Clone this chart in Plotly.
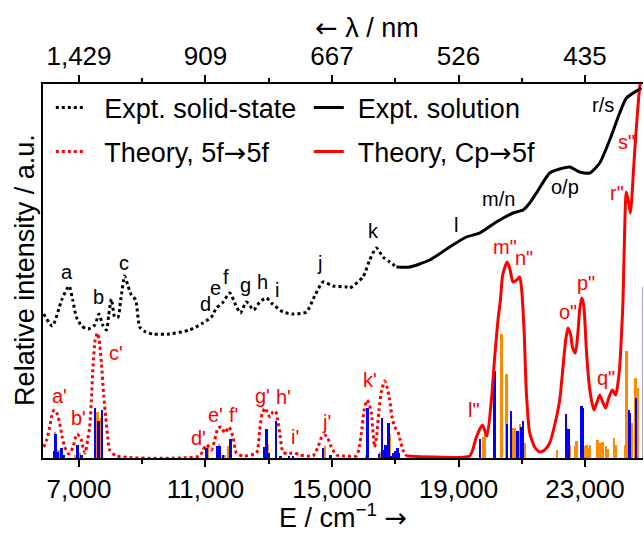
import plotly.graph_objects as go

# ---------------- data ----------------
# Expt. solid-state (dotted black)
solid_E = [5884, 6159, 6453, 6684, 6801, 6918, 7086, 7285, 7497, 7633, 7750, 7867, 7939,
           8025, 8129, 8234, 8319, 8445, 8540, 8657, 8793, 8920, 9109, 9340, 9868, 10501,
           10921, 11187, 11345, 11535, 11765, 11955, 12104, 12293, 12524, 12714, 12926,
           13084, 13451, 13767, 14191, 14453, 14716, 15032, 15456, 15560, 15980, 16192,
           16404, 16613, 16825, 17037]
solid_I = [1.44, 1.32, 1.58, 1.72, 1.58, 1.41, 1.32, 1.29, 1.33, 1.44, 1.33, 1.28, 1.43,
           1.59, 1.41, 1.41, 1.58, 1.82, 1.73, 1.63, 1.58, 1.31, 1.26, 1.24, 1.24, 1.28,
           1.35, 1.41, 1.50, 1.55, 1.65, 1.53, 1.45, 1.56, 1.48, 1.56, 1.60,
           1.55, 1.46, 1.44, 1.46, 1.62, 1.76, 1.72, 1.71, 1.70, 1.81, 1.98,
           2.10, 2.01, 1.96, 1.91]

# Expt. solution (solid black)
soln_E = [17037, 17457, 18090, 18722, 19250, 19670, 20198, 20723, 21040, 21251, 21463,
          21884, 22200, 22516, 22832, 23149, 23465, 23781, 24097, 24309, 24625, 24783]
soln_I = [1.91, 1.91, 1.98, 2.11, 2.21, 2.25, 2.36, 2.45, 2.48, 2.55, 2.65,
          2.85, 2.89, 2.91, 2.86, 2.85, 2.95, 3.18, 3.45, 3.60, 3.67, 3.70]

# Theory, 5f->5f (dotted red)
ff_E = [5884, 5979, 6074, 6169, 6232, 6311, 6390, 6469, 6548, 6684, 6811, 6896, 6950, 7022,
        7076, 7149, 7196, 7275, 7339, 7392, 7443, 7513, 7582, 7639, 7709, 7781, 7845, 7908,
        7971, 8183, 10817, 10921, 11029, 11117, 11187, 11291, 11396, 11503, 11607, 11743,
        11870, 11977, 12186, 12610, 12714, 12793, 12894, 12967, 13052, 13125, 13210, 13283,
        13346, 13451, 13609, 13726, 13821, 13979, 14399, 14558, 14675, 14769, 14864, 14981,
        15139, 15402, 15772, 15844, 15930, 16018, 16107, 16176, 16246, 16303, 16350, 16414,
        16486, 16572, 16667, 16746, 16825, 16904, 16983, 17087, 17157, 17245, 17353]
ff_I = [0.11, 0.18, 0.31, 0.46, 0.48, 0.44, 0.35, 0.21, 0.11, 0.04, 0.11, 0.21, 0.24, 0.21,
        0.18, 0.08, 0.05, 0.18, 0.31, 0.58, 0.91, 1.18, 1.25, 1.18, 0.95, 0.63, 0.41, 0.21,
        0.08, 0.02, 0.02, 0.08, 0.13, 0.11, 0.08, 0.18, 0.30, 0.31, 0.25, 0.31,
        0.21, 0.05, 0.02, 0.05, 0.28, 0.45, 0.50, 0.44, 0.41, 0.46, 0.47, 0.38,
        0.25, 0.06, 0.04, 0.05, 0.05, 0.03, 0.02, 0.11, 0.21, 0.23, 0.20, 0.11,
        0.03, 0.02, 0.02, 0.08, 0.25, 0.48, 0.58, 0.54, 0.45, 0.23, 0.11, 0.23,
        0.48, 0.68, 0.77, 0.70, 0.58, 0.40, 0.31, 0.26, 0.18, 0.08, 0.02]

# Theory, Cp->5f (solid red)
cp_E = [17353, 19354, 19449, 19566, 19756, 19901, 20040, 20145, 20249, 20325, 20398, 20534,
        20619, 20723, 20840, 20935, 20999, 21040, 21078, 21147, 21251, 21409, 21567, 21725,
        21884, 22042, 22200, 22305, 22390, 22463, 22548, 22611, 22697, 22769, 22832, 22896,
        22959, 23044, 23117, 23203, 23285, 23370, 23465, 23560, 23655, 23749, 23866, 23971,
        24034, 24097, 24161, 24202, 24255, 24303, 24366, 24436, 24477, 24540, 24625, 24730,
        24809]
cp_I = [0.02, 0.02, 0.08, 0.21, 0.33, 0.22, 0.58, 1.01, 1.38, 1.58, 1.83, 1.96,
        1.90, 1.76, 1.78, 1.81, 1.68, 1.48, 1.25, 0.65, 0.25, 0.11, 0.06, 0.08,
        0.15, 0.33, 0.58, 0.91, 1.18, 1.30, 1.23, 1.10, 1.05, 1.23, 1.48, 1.60,
        1.53, 1.08, 0.78, 0.58, 0.48, 0.55, 0.63, 0.56, 0.50, 0.60, 0.68, 0.63,
        0.73, 0.91, 1.28, 1.58, 2.28, 2.66, 2.58, 2.45, 2.58, 2.91, 3.31, 3.71,
        3.88]

# Stick spectra
orange_E = [6241, 6352, 6864, 7022, 7582, 7696, 11060, 11427, 11607, 11712, 12961, 14769,
            16088, 16531, 16720, 16825, 19775, 19829, 20357, 20515, 20723, 20777, 20935,
            21093, 22115, 22431, 22516, 22674, 22728, 22990, 23044, 23095, 23149, 23392,
            23487, 23550, 23655, 23727, 23908, 23961, 24255, 24309, 24467, 24594, 24676]
orange_I = [0.26, 0.08, 0.03, 0.05, 0.46, 0.40, 0.12, 0.14, 0.03, 0.12, 0.14, 0.12,
            0.03, 0.06, 0.07, 0.24, 0.21, 0.30, 1.24, 0.84, 0.30, 0.30, 0.34,
            0.15, 0.08, 0.30, 0.13, 0.12, 0.17, 0.12, 0.13, 0.10, 0.13, 0.18,
            0.15, 0.16, 0.12, 0.09, 0.20, 0.13, 0.13, 1.07, 0.35, 0.80, 0.70]
blue_E = [6200, 6257, 6336, 6444, 6517, 6950, 7076, 7506, 7614, 7728, 11029, 11377, 11471,
          11554, 11788, 12850, 12926, 12999, 13220, 13369, 13631, 13767, 14716, 14950,
          16120, 16486, 16581, 16635, 16689, 16784, 16878, 16929, 16992, 17068, 17119,
          19671, 20135, 20540, 20651, 20863, 20989, 21040, 22390, 22475, 22886, 22924,
          24382, 24423, 24613]
blue_I = [0.07, 0.24, 0.06, 0.10, 0.03, 0.13, 0.03, 0.50, 0.37, 0.48, 0.10, 0.12, 0.12,
          0.03, 0.19, 0.11, 0.29, 0.05, 0.37, 0.02, 0.02, 0.02, 0.10, 0.03,
          0.50, 0.04, 0.40, 0.08, 0.13, 0.35, 0.02, 0.05, 0.07, 0.10, 0.05,
          0.19, 0.87, 0.34, 0.47, 0.27, 0.31, 0.37, 0.44, 0.29, 0.52, 0.50,
          0.48, 0.45, 0.60]
# stick cut off at the right edge of the frame
edge_E = [24834]
edge_I = [1.71]

# Peak labels
black_lab = ["a", "b", "c", "d", "e", "f", "g", "h", "i", "j", "k", "l", "m/n", "o/p", "r/s"]
black_E = [6634, 7601, 8423, 11007, 11323, 11661, 12271, 12799, 13274, 14611, 16328, 18912,
           20249, 22358, 23569]
black_I = [1.86, 1.61, 1.95, 1.54, 1.70, 1.81, 1.73, 1.76, 1.68, 1.95, 2.27, 2.33, 2.59,
           2.71, 3.53]
red_lab = ["a'", "b'", "c'", "d'", "e'", "f'", "g'", "h'", "i'", "j'", "k'",
           'l"', 'm"', 'n"', 'o"', 'p"', 'q"', 'r"', 's"']
red_E = [6368, 7000, 8183, 10763, 11313, 11870, 12818, 13451, 13843, 14823, 16192,
         19490, 20461, 21071, 22463, 23022, 23655, 24012, 24309]
red_I = [0.62, 0.40, 1.05, 0.20, 0.43, 0.43, 0.62, 0.61, 0.21, 0.36, 0.78,
         0.48, 2.11, 2.00, 1.46, 1.75, 0.80, 2.65, 3.16]

# Axis ticks
E_ticks = [7000, 11000, 15000, 19000, 23000]
E_ticktext = ["7,000", "11,000", "15,000", "19,000", "23,000"]
E_minor = [9000, 13000, 17000, 21000]
nm_ticktext = ["1,429", "909", "667", "526", "435"]

# ---------------- figure ----------------
FONT = "Liberation Sans, Arial, sans-serif"
ARROW = '<span style="font-family:DejaVu Sans">{}</span>'
RED = "#FF0000"
BLUE = "#0000FF"
ORANGE = "#FF8C00"

fig = go.Figure()
fig.add_trace(go.Bar(x=orange_E, y=orange_I, width=70, marker=dict(color=ORANGE, line_width=0),
                     showlegend=False, hoverinfo="skip"))
fig.add_trace(go.Bar(x=blue_E, y=blue_I, width=70, marker=dict(color=BLUE, line_width=0),
                     showlegend=False, hoverinfo="skip"))
fig.add_trace(go.Bar(x=edge_E, y=edge_I, width=50, marker=dict(color="#A8A8F0", line_width=0),
                     showlegend=False, hoverinfo="skip"))
fig.add_trace(go.Scatter(x=ff_E, y=ff_I, mode="lines",
                         name="\u2002Theory, 5f" + ARROW.format("\u2192") + "5f",
                         line=dict(color=RED, width=3, dash="dot", shape="spline", smoothing=0.6),
                         legend="legend3"))
fig.add_trace(go.Scatter(x=cp_E, y=cp_I, mode="lines",
                         name="\u2004Theory, Cp" + ARROW.format("\u2192") + "5f",
                         line=dict(color=RED, width=3, shape="spline", smoothing=0.6),
                         legend="legend4"))
fig.add_trace(go.Scatter(x=solid_E, y=solid_I, mode="lines", name="\u2002Expt. solid-state",
                         line=dict(color="black", width=3, dash="dot", shape="spline", smoothing=0.6),
                         legend="legend"))
fig.add_trace(go.Scatter(x=soln_E, y=soln_I, mode="lines", name="\u2004Expt. solution",
                         line=dict(color="black", width=3, shape="spline", smoothing=0.6),
                         legend="legend2"))
# carrier for the top (wavelength) axis
fig.add_trace(go.Scatter(x=E_ticks, y=[0] * len(E_ticks), xaxis="x2", mode="none",
                         showlegend=False, hoverinfo="skip"))

for t, e, i in zip(black_lab, black_E, black_I):
    fig.add_annotation(x=e, y=i, text=t, showarrow=False,
                       font=dict(family=FONT, size=20, color="black"))
for t, e, i in zip(red_lab, red_E, red_I):
    fig.add_annotation(x=e, y=i, text=t, showarrow=False,
                       font=dict(family=FONT, size=20, color=RED))

fig.add_annotation(xref="paper", yref="paper", x=-0.030, y=0.503, xanchor="center",
                   yanchor="middle", text="Relative intensity / a.u.",
                   textangle=-90, showarrow=False, font=dict(family=FONT, size=27, color="black"))
fig.add_annotation(xref="paper", yref="paper", x=0.54, y=1.15, xanchor="center",
                   yanchor="middle", text=ARROW.format("\u2190") + " \u03bb / nm",
                   showarrow=False, font=dict(family=FONT, size=27, color="black"))

axis_common = dict(range=[5862, 24834], showline=True, linecolor="black", linewidth=2,
                   ticks="outside", ticklen=7, tickwidth=2, tickcolor="black",
                   tickvals=E_ticks, showgrid=False, zeroline=False, automargin=False,
                   tickfont=dict(family=FONT, size=26, color="black"),
                   minor=dict(tickvals=E_minor, ticks="outside", ticklen=4, tickwidth=2,
                              tickcolor="black", showgrid=False))

leg_common = dict(orientation="h", bgcolor="rgba(0,0,0,0)", borderwidth=0, itemwidth=30,
                  font=dict(family=FONT, size=27, color="black"),
                  xanchor="left", yanchor="middle")

fig.update_layout(
    width=644, height=533,
    margin=dict(l=43, r=1, t=84, b=75, autoexpand=False),
    paper_bgcolor="white", plot_bgcolor="white",
    barmode="overlay", bargap=0,
    xaxis=dict(**axis_common, ticktext=E_ticktext,
               title=dict(text="E / cm<sup>\u22121</sup> " + ARROW.format("\u2192"), standoff=4,
                          font=dict(family=FONT, size=27, color="black"))),
    xaxis2=dict(**axis_common, ticktext=nm_ticktext, overlaying="x", side="top", anchor="y"),
    yaxis=dict(range=[0, 3.74], showline=True, linecolor="black", linewidth=2, automargin=False,
               ticks="", showticklabels=False, showgrid=False, zeroline=False),
    legend=dict(**leg_common, x=0.013, y=0.936),
    legend2=dict(**leg_common, x=0.443, y=0.936),
    legend3=dict(**leg_common, x=0.013, y=0.818),
    legend4=dict(**leg_common, x=0.443, y=0.818),
    showlegend=True,
)

fig.write_html("out.html", config={"displayModeBar": False},
               post_script="document.body.style.margin='0px';")
